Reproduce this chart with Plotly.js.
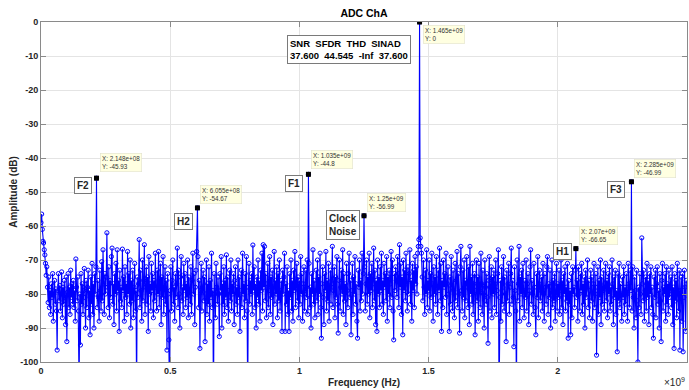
<!DOCTYPE html>
<html>
<head>
<meta charset="utf-8">
<script src="https://cdn.plot.ly/plotly-3.0.1.min.js"></script>
<style>
  html, body { margin: 0; padding: 0; background: #fff; }
  #chart { width: 689px; height: 390px; }
</style>
</head>
<body>
<div id="chart"></div>
<script>
// ---- Spectrum data ----
// Noise-floor bins: first bin frequency and bin spacing (Hz)
const binStart = 0;
const binStep = 2.5e6;

// Noise floor magnitude per bin (dB), 1000 bins
const noiseDb = [
  -59, -56.5, -61, -64.5, -65, -67, -68.5, -71, -74.5, -72, -78, -82.5, -75, -84, -79, -86, -77, -81, -74, -88, -80, -76, -83, -78.5, -85,
  -96.5, -79, -74, -82, -77.5, -85, -80, -73.5, -87, -78, -83, -76, -81, -89, -75, -94, -79.5, -74, -84, -78, -86, -73, -81, -77, -83,
  -76, -84, -79, -88, -69.7, -78, -82, -75, -85, -108, -80, -95, -74, -83, -77, -86, -79, -72.5, -81, -90, -76, -84, -78, -73, -87,
  -79, -92, -75, -83, -71, -86, -77, -90, -74, -80, -72, -78, -84, -76, -81, -88, -73, -79, -85, -70.5, -82, -67, -77, -86, -74,
  -80, -75, -62, -78, -84, -72, -87, -76, -81, -69, -66.5, -83, -77, -89, -74, -80, -71, -85, -67, -79, -76, -91, -73, -82, -78,
  -84, -66.8, -79, -75, -88, -72, -81, -77, -86, -67.5, -80, -74, -83, -70, -90, -76, -82, -73, -87, -78, -71, -85, -79, -110, -75,
  -81, -77, -64, -84, -73, -79, -88, -70, -82, -76, -65.5, -86, -78, -72, -83, -75, -91, -69, -80, -77, -85, -71, -79, -74, -87,
  -76, -82, -68, -78, -85, -73, -80, -67.5, -84, -77, -71, -89, -75, -81, -69, -86, -78, -72, -83, -76, -96.5, -74, -80, -93.5, -112,
  -79, -72, -85, -76, -70, -83, -78, -88, -74, -81, -77, -66.5, -84, -73, -80, -90, -75, -69, -82, -78, -86, -71, -79, -74, -84,
  -77, -81, -70, -87, -75, -79, -83, -72, -86, -76, -68, -80, -74, -89, -78, -73, -67.5, -82, -69, -84, -76, -96, -79, -71, -85,
  -78, -73, -82, -75, -94, -80, -70, -86, -77, -83, -72, -88, -76, -81, -68, -84, -79, -115, -74, -80, -87, -71, -78, -83, -75,
  -80, -92.5, -74, -79, -69, -90, -77, -83, -72, -86, -76, -81, -68.5, -84, -75, -88, -79, -73, -82, -70, -85, -77, -80, -74, -89,
  -76, -72, -83, -78, -86, -70, -81, -75, -91, -79, -73, -84, -68, -80, -77, -87, -74, -82, -69, -85, -110, -78, -71, -83, -76,
  -80, -74, -86, -65.6, -79, -72, -84, -77, -90, -75, -81, -70, -83, -76, -88, -73, -79, -68, -85, -65.5, -78, -66, -82, -74, -87,
  -77, -71, -84, -79, -69, -86, -75, -81, -73, -89, -78, -67.5, -83, -76, -80, -72, -87, -74, -82, -70, -85, -79, -76, -91, -73,
  -80, -75, -68, -91, -77, -83, -72, -86, -79, -91, -74, -81, -70, -85, -76, -88, -73, -79, -67.5, -84, -78, -71, -82, -75, -87,
  -76, -83, -69, -80, -74, -88, -77, -72, -85, -79, -73, -81, -70, -86, -75, -71, -84, -78, -90, -74, -80, -67, -83, -76, -87,
  -79, -73, -82, -70, -86, -75, -80, -68, -84, -93, -77, -72, -81, -89, -74, -79, -67.5, -85, -76, -82, -71, -88, -78, -73, -83,
  -77, -66, -84, -79, -72, -87, -75, -81, -69, -83, -91.5, -76, -70, -85, -78, -73, -80, -67, -86, -74, -82, -77, -89, -71, -79,
  -84, -74, -68, -81, -76, -92, -79, -71, -86, -75, -80, -69, -83, -77, -88, -93, -73, -78, -70, -85, -76, -82, -68, -80, -74,
  -78, -72, -85, -77, -70, -83, -75, -80, -68, -87, -74, -79, -71, -84, -77, -66.5, -82, -73, -89, -76, -91, -70, -80, -75, -84,
  -72, -79, -68, -83, -76, -86, -71, -78, -74, -82, -69, -88, -75, -80, -73, -84, -77, -67.5, -81, -70, -85, -93.5, -74, -79, -72,
  -76, -81, -69, -74, -84, -65.5, -78, -71, -86, -75, -92, -70, -79, -73, -82, -68, -77, -85, -72, -80, -74, -67, -83, -76, -88,
  -71, -79, -73, -84, -69, -77, -72, -80, -68, -66, -64, -60, -63.5, -66, -68, -75, -82, -70, -78, -86, -73, -80, -67, -84, -76,
  -79, -70, -85, -74, -81, -68, -77, -88, -72, -80, -75, -83, -69, -78, -86, -73, -79, -66.5, -82, -71, -91, -76, -84, -70, -78,
  -74, -81, -68, -86, -77, -72, -80, -91, -75, -83, -69, -78, -85, -73, -79, -87, -71, -82, -76, -67.5, -84, -74, -80, -91.5, -72,
  -66, -79, -85, -73, -81, -70, -87, -76, -82, -69, -78, -84, -72, -89, -66, -80, -75, -83, -71, -86, -77, -74, -92, -79, -70,
  -82, -75, -88, -71, -79, -84, -68, -77, -86, -73, -80, -90, -70, -78, -83, -74, -81, -94.5, -76, -69, -85, -78, -72, -87, -75,
  -80, -73, -84, -77, -70, -86, -79, -74, -67, -112, -81, -76, -88, -72, -83, -78, -69, -85, -75, -80, -94, -73, -82, -77, -71,
  -86, -78, -74, -66.5, -83, -76, -81, -95.5, -72, -79, -85, -110, -70, -82, -77, -66, -88, -75, -80, -73, -84, -71, -79, -87, -76,
  -81, -70, -85, -77, -74, -89, -79, -72, -67, -83, -76, -80, -86, -71, -78, -84, -92, -74, -81, -69, -87, -77, -73, -82, -79,
  -75, -85, -71, -80, -88, -74, -78, -83, -72, -69, -86, -77, -81, -73, -90, -79, -70, -84, -76, -82, -74, -88, -78, -71, -85,
  -77, -81, -73, -86, -79, -70, -84, -76, -89, -74, -80, -72, -85, -78, -82, -71, -93, -76, -83, -79, -92, -74, -87, -72, -80,
  -78, -84, -73, -70, -81, -76, -88, -72, -80, -85, -74, -79, -71, -86, -77, -83, -75, -90, -73, -81, -78, -70, -84, -76, -87,
  -79, -73, -82, -75, -88, -77, -71, -84, -80, -74, -98, -78, -72, -86, -76, -81, -70, -89, -75, -83, -79, -73, -85, -77, -71,
  -82, -76, -87, -74, -80, -72, -85, -78, -83, -70, -77, -89, -75, -81, -73, -86, -79, -97, -74, -82, -71, -84, -77, -80, -88,
  -75, -81, -72, -86, -78, -83, -74, -80, -88, -71, -77, -84, -73, -79, -76, -85, -72, -81, -90, -75, -79, -87, -73, -82, -100,
  -78, -84, -74, -80, -86, -63.5, -77, -82, -73, -88, -79, -75, -85, -71, -81, -76, -89, -74, -80, -72, -84, -78, -86, -93, -75,
  -81, -73, -87, -77, -72, -83, -79, -90, -74, -82, -94, -76, -71, -85, -78, -80, -74, -88, -72, -83, -77, -86, -73, -81, -79,
  -75, -84, -72, -89, -78, -96, -74, -82, -76, -87, -71, -80, -85, -73, -96.5, -79, -75, -88, -74, -97, -81, -73, -78, -91, -76
];

// Tones and spurs (frequency in Hz, magnitude in dB) with their callout names
const toneFreq = [2.148e8, 6.055e8, 1.035e9, 1.25e9, 1.465e9, 2.07e9, 2.285e9];
const toneDb   = [-45.93, -54.67, -44.8, -56.99, 0, -66.65, -46.99];
const toneName = ['F2', 'H2', 'F1', 'Clock<br>Noise', '', 'H1', 'F3'];

// Axis ticks
const xTickVals = [0, 0.5e9, 1e9, 1.5e9, 2e9];
const xTickText = ['0', '0.5', '1', '1.5', '2'];
const yTickVals = [-100, -90, -80, -70, -60, -50, -40, -30, -20, -10, 0];
const yTickText = ['-100', '-90', '-80', '-70', '-60', '-50', '-40', '-30', '-20', '-10', '0'];

// Summary metrics
const metricNames  = ['SNR', 'SFDR', 'THD', 'SINAD'];
const metricValues = ['37.600', '44.545', '-Inf', '37.600'];

// ---- Build the spectrum series ----
const pts = [];
noiseDb.forEach((v, i) => {
  const f = binStart + i * binStep;
  // a tone bin replaces the noise bin it falls into
  if (toneFreq.every(t => Math.abs(t - f) > binStep / 2)) pts.push([f, v]);
});
toneFreq.forEach((f, i) => pts.push([f, toneDb[i]]));
pts.sort((a, b) => a[0] - b[0]);

const BLUE = '#0000ff';
const INK = '#262626';
const FONT = 'Arial, "Liberation Sans", Helvetica, sans-serif';

const spectrum = {
  x: pts.map(p => p[0]),
  y: pts.map(p => p[1]),
  type: 'scatter',
  mode: 'lines+markers',
  line: { color: BLUE, width: 1.1 },
  marker: { symbol: 'circle-open', size: 4.2, color: BLUE, line: { width: 1, color: BLUE } },
  hoverinfo: 'skip'
};

const tonePins = {
  x: toneFreq,
  y: toneDb,
  type: 'scatter',
  mode: 'markers',
  marker: { symbol: 'square', size: 5, color: '#000' },
  hoverinfo: 'skip'
};

// ---- Callouts ----
function fmtFreq(v) {
  const e = Math.floor(Math.log10(v));
  const m = parseFloat((v / Math.pow(10, e)).toPrecision(4));
  return m + 'e+' + String(e).padStart(2, '0');
}

// data-tip placement (px offsets from the marker); the carrier tip hangs below
const tipPlace = [
  { dy: 6 }, { dy: 4 }, { dy: 5 }, { dy: 4 }, { dy: -3, below: true }, { dy: 4 }, { dy: 4 }
];
// name-box placement (px offsets of the box's top-right corner from the marker)
const namePlace = [
  { dx: -5, dy: 1 }, { dx: -4, dy: -5 }, { dx: -5, dy: -1 }, { dx: -4, dy: 6 },
  null, { dx: -4, dy: 6 }, { dx: -6, dy: 1 }
];

const annotations = [];
toneFreq.forEach((f, i) => {
  const p = tipPlace[i];
  annotations.push({
    x: f, y: toneDb[i], xref: 'x', yref: 'y',
    text: 'X: ' + fmtFreq(f) + '<br>Y: ' + toneDb[i],
    showarrow: false, align: 'left',
    xanchor: 'left', yanchor: p.below ? 'top' : 'bottom',
    xshift: 3, yshift: p.dy,
    font: { family: FONT, size: 6.3, color: '#333' },
    bgcolor: '#ffffe1', bordercolor: '#e2e2cc', borderwidth: 0.6, borderpad: 1.5
  });
  const n = namePlace[i];
  if (n) {
    annotations.push({
      x: f, y: toneDb[i], xref: 'x', yref: 'y',
      text: toneName[i],
      showarrow: false, align: 'left',
      xanchor: 'right', yanchor: 'top',
      xshift: n.dx, yshift: n.dy,
      font: { family: FONT, size: 10, color: INK, weight: 'bold' },
      bgcolor: '#fff', bordercolor: '#7a7a7a', borderwidth: 1, borderpad: 2
    });
  }
});

// metrics table
annotations.push({
  xref: 'paper', yref: 'paper', x: 0.381, y: 0.962,
  xanchor: 'left', yanchor: 'top', align: 'left', showarrow: false,
  text: metricNames.join('  ') + '<br>' + metricValues.join('  '),
  font: { family: FONT, size: 9.5, color: '#000', weight: 'bold' },
  bgcolor: '#fff', bordercolor: '#7a7a7a', borderwidth: 1, borderpad: 2
});

// axis exponent
annotations.push({
  xref: 'paper', yref: 'paper', x: 1, y: 0, xanchor: 'right', yanchor: 'top',
  yshift: -12, showarrow: false,
  text: '×10<sup>9</sup>',
  font: { family: FONT, size: 10, color: INK }
});

const axisCommon = {
  showline: true, mirror: 'ticks', linecolor: '#8a8a8a', linewidth: 1,
  ticks: 'inside', ticklen: 5, tickcolor: '#8a8a8a', tickwidth: 1,
  showgrid: true, gridcolor: '#e4e4e4', gridwidth: 1, zeroline: false,
  tickfont: { family: FONT, size: 9, color: INK, weight: 'bold' },
  automargin: false
};

const layout = {
  width: 689, height: 390,
  margin: { l: 41, r: 2, t: 22, b: 28 },
  paper_bgcolor: '#fff', plot_bgcolor: '#fff',
  showlegend: false,
  hovermode: false,
  title: {
    text: 'ADC ChA',
    font: { family: FONT, size: 10.5, color: '#000', weight: 'bold' },
    x: 0.5, xref: 'paper', xanchor: 'center',
    y: 0.965, yref: 'container', yanchor: 'middle'
  },
  xaxis: Object.assign({}, axisCommon, {
    range: [0, 2.5e9], tickvals: xTickVals, ticktext: xTickText,
    title: { text: 'Frequency (Hz)', standoff: 4,
             font: { family: FONT, size: 10, color: INK, weight: 'bold' } }
  }),
  yaxis: Object.assign({}, axisCommon, {
    range: [-100, 0], tickvals: yTickVals, ticktext: yTickText,
    title: { text: 'Amplitude (dB)', standoff: 0,
             font: { family: FONT, size: 10, color: INK, weight: 'bold' } }
  }),
  annotations: annotations
};

Plotly.newPlot('chart', [spectrum, tonePins], layout, { staticPlot: true, displayModeBar: false });
</script>
</body>
</html>
